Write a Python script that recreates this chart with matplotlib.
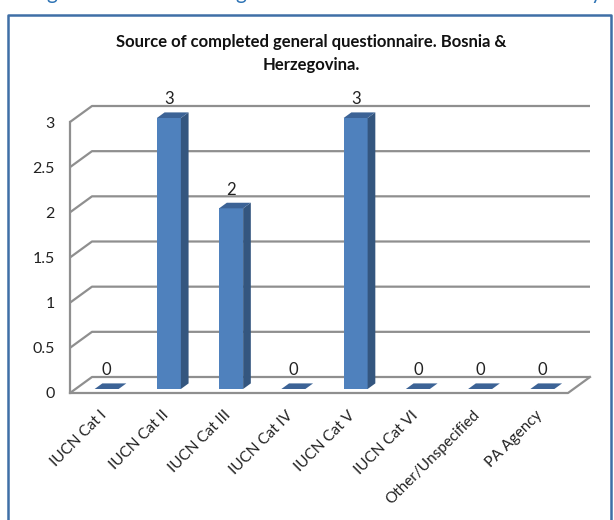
import numpy as np
import matplotlib
matplotlib.use("Agg")
from matplotlib import pyplot as plt
from matplotlib.patches import Polygon
from matplotlib.lines import Line2D

categories = ["IUCN Cat I", "IUCN Cat II", "IUCN Cat III", "IUCN Cat IV",
              "IUCN Cat V", "IUCN Cat VI", "Other/Unspecified", "PA Agency"]
counts = [0, 3, 2, 0, 3, 0, 0, 0]
y_ticks = [0, 0.5, 1, 1.5, 2, 2.5, 3]
y_tick_labels = ["0", "0.5", "1", "1.5", "2", "2.5", "3"]
title_lines = ["Source of completed general questionnaire. Bosnia &", "Herzegovina."]

plt.rcParams['font.family'] = ['Lato', 'DejaVu Sans']

W, H = 614, 520
fig = plt.figure(figsize=(W / 100, H / 100), dpi=100)

# pixel geometry of the fake 3d box
px_left, px_right, px_floor, px_top = 70, 591, 393, 105
x_unit = (568 - 70) / len(categories)
y_unit = (393 - 122) / 3.0
ax = fig.add_axes([px_left / W, (H - px_floor) / H,
                   (px_right - px_left) / W, (px_floor - px_top) / H])
x0 = -0.5
xn = len(categories) - 0.5
ax.set_xlim(x0, x0 + (px_right - px_left) / x_unit)
ax.set_ylim(0, (px_floor - px_top) / y_unit)
for s in ax.spines.values():
    s.set_visible(False)
ax.set_xticks([])
ax.set_yticks(y_ticks)
ax.set_yticklabels(y_tick_labels, fontsize=11.5, color='#222222')
ax.tick_params(axis='y', length=0, pad=11)
ax.patch.set_alpha(0)

dx = 22 / x_unit
dy = 16 / y_unit
grid_c = '#8f8f8f'

# walls / grid
for v in y_ticks:
    ax.plot([x0, x0 + dx, xn + dx], [v, v + dy, v + dy], color=grid_c, lw=1.6,
            clip_on=False, solid_capstyle='butt', zorder=1)
ax.plot([x0, x0], [0, y_ticks[-1]], color=grid_c, lw=1.6, clip_on=False, zorder=1)
ax.plot([x0, xn, xn + dx], [0, 0, dy], color=grid_c, lw=1.6, clip_on=False, zorder=1)

# bars
f0, fd = 0.25, 0.35
w = 24 / x_unit
c_front, c_side, c_top = '#4f81bd', '#34567f', '#3c6396'
for i, v in enumerate(counts):
    xl = i - w / 2 + f0 * dx
    yb = f0 * dy
    if v > 0:
        ax.add_patch(Polygon([(xl, yb), (xl + w, yb), (xl + w, yb + v), (xl, yb + v)],
                             closed=True, fc=c_front, ec='none', zorder=3, clip_on=False))
        ax.add_patch(Polygon([(xl + w, yb), (xl + w + fd * dx, yb + fd * dy),
                              (xl + w + fd * dx, yb + v + fd * dy), (xl + w, yb + v)],
                             closed=True, fc=c_side, ec='none', zorder=3, clip_on=False))
    ax.add_patch(Polygon([(xl, yb + v), (xl + w, yb + v),
                          (xl + w + fd * dx, yb + v + fd * dy), (xl + fd * dx, yb + v + fd * dy)],
                         closed=True, fc=c_top, ec='none', zorder=3, clip_on=False))
    ax.text(i + f0 * dx, v + (f0 + fd) * dy + 8 / y_unit, str(v), ha='center',
            va='baseline', fontsize=12, color='#222222', zorder=4)

# category labels
for i, cat in enumerate(categories):
    ax.text(i + 3 / x_unit, -20 / y_unit, cat, rotation=45, rotation_mode='anchor',
            ha='right', va='center', fontsize=11, color='#222222', clip_on=False)

# title
fig.text(311 / W, 1 - 42 / H, title_lines[0], ha='center', va='center',
         fontsize=12, fontweight='bold', color='#111111')
fig.text(311 / W, 1 - 65 / H, title_lines[1], ha='center', va='center',
         fontsize=12, fontweight='bold', color='#111111')

# frame around the chart
frame_c = '#3f6fa6'
fig.add_artist(Line2D([8 / W, 8 / W, 611 / W, 611 / W], [-0.05, 1 - 15 / H, 1 - 15 / H, -0.05],
                      transform=fig.transFigure, color=frame_c, lw=1.8))

# descenders of the clipped heading above the frame
for xp, ch in [(52, 'g'), (241, 'g'), (596, 'y')]:
    fig.text(xp / W, 1 + 1 / H, ch, ha='center', va='baseline', fontsize=15,
             color='#2e74b5')

fig.savefig("out.png", dpi=100)
